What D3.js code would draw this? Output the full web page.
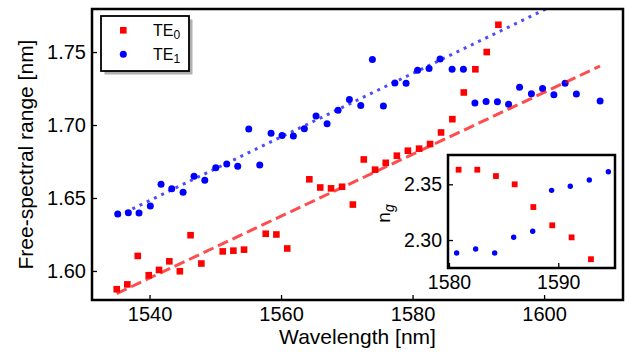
<!DOCTYPE html>
<html>
<head>
<meta charset="utf-8">
<script src="https://cdn.jsdelivr.net/npm/d3@7"></script>
<style>
  body { margin: 0; background: #fff; }
  svg { display: block; font-family: "Liberation Sans", Arial, sans-serif; }
  .tick line { stroke: #000; stroke-width: 1.3; }
  .tick text { fill: #000; }
</style>
</head>
<body>
<script>
// measured FSR, TE0 mode
const te0Wavelength = [1535.01, 1536.62, 1538.21, 1539.88, 1541.44, 1543.01, 1544.61, 1546.24, 1547.88,
  1551.13, 1552.75, 1554.37, 1557.67, 1559.29, 1560.94, 1564.30, 1565.96, 1567.60, 1569.28, 1570.92,
  1572.58, 1574.30, 1575.92, 1577.61, 1579.29, 1580.99, 1582.66, 1584.33, 1586.05, 1587.79, 1589.55,
  1591.28, 1593.05];
const te0Fsr = [1.5875, 1.5908, 1.6103, 1.5971, 1.6007, 1.6066, 1.5998, 1.6245, 1.6051,
  1.6134, 1.6139, 1.6146, 1.6255, 1.6250, 1.6154, 1.6628, 1.6572, 1.6566, 1.6577, 1.6455,
  1.6764, 1.6694, 1.6741, 1.6790, 1.6824, 1.6838, 1.6870, 1.6949, 1.7040, 1.7223, 1.7382,
  1.7500, 1.7687];

// measured FSR, TE1 mode
const te1Wavelength = [1535.16, 1536.78, 1538.40, 1540.12, 1541.75, 1543.38, 1545.10, 1546.77, 1548.40,
  1550.07, 1551.74, 1553.41, 1555.09, 1556.76, 1558.48, 1560.15, 1561.87, 1563.54, 1565.32, 1567.00,
  1568.67, 1570.39, 1572.12, 1573.89, 1575.56, 1577.31, 1579.01, 1580.76, 1582.51, 1584.18, 1586.01,
  1587.73, 1589.48, 1591.18, 1592.90, 1594.60, 1596.27, 1598.07, 1599.77, 1601.49, 1603.19, 1604.91,
  1608.52];
const te1Fsr = [1.6390, 1.6399, 1.6397, 1.6445, 1.6594, 1.6564, 1.6539, 1.6649, 1.6621,
  1.6708, 1.6733, 1.6717, 1.6973, 1.6726, 1.6943, 1.6928, 1.6925, 1.6975, 1.7062, 1.7009,
  1.7101, 1.7175, 1.7134, 1.7449, 1.7130, 1.7288, 1.7286, 1.7375, 1.7388, 1.7452, 1.7382,
  1.7382, 1.7151, 1.7162, 1.7160, 1.7142, 1.7259, 1.7214, 1.7251, 1.7208, 1.7286, 1.7212,
  1.7164];

// linear fits (end points)
const fit0Wavelength = [1535.0, 1608.5];
const fit0Fsr = [1.5845, 1.7404];
const fit1Wavelength = [1535.2, 1608.5];
const fit1Fsr = [1.6378, 1.7974];

// inset: group index
const ng0Wavelength = [1580.88, 1582.59, 1584.30, 1586.01, 1587.72, 1589.45, 1591.22, 1592.99];
const ng0 = [2.3631, 2.3631, 2.3574, 2.3500, 2.3296, 2.3132, 2.3024, 2.2828];
const ng1Wavelength = [1580.70, 1582.44, 1584.18, 1585.92, 1587.66, 1589.39, 1591.10, 1592.84, 1594.58];
const ng1 = [2.2883, 2.2919, 2.2883, 2.3025, 2.3079, 2.3446, 2.3482, 2.3539, 2.3613];

const xTicks = [1540, 1560, 1580, 1600];
const yTicks = [1.60, 1.65, 1.70, 1.75];
const insetXTicks = [1580, 1590];
const insetYTicks = [2.30, 2.35];
const seriesNames = ["0", "1"];

const W = 629, H = 354;
const red = "#ff0000", blue = "#0000ff";

const svg = d3.select("body").append("svg")
  .attr("width", W)
  .attr("height", H);

const x = d3.scaleLinear().domain([1531.25, 1612.0]).range([92, 623]);
const y = d3.scaleLinear().domain([1.5801, 1.7795]).range([300, 9]);

svg.append("clipPath").attr("id", "mainClip")
  .append("rect")
  .attr("x", x.range()[0]).attr("y", y.range()[1])
  .attr("width", x.range()[1] - x.range()[0])
  .attr("height", y.range()[0] - y.range()[1]);

const plot = svg.append("g").attr("clip-path", "url(#mainClip)");

const te0 = te0Wavelength.map((w, i) => ({w: w, v: te0Fsr[i]}));
const te1 = te1Wavelength.map((w, i) => ({w: w, v: te1Fsr[i]}));

plot.append("g")
  .selectAll("rect")
  .data(te0)
  .join("rect")
  .attr("x", d => x(d.w) - 3.3)
  .attr("y", d => y(d.v) - 3.3)
  .attr("width", 6.6)
  .attr("height", 6.6)
  .attr("fill", red);

plot.append("g")
  .selectAll("circle")
  .data(te1)
  .join("circle")
  .attr("cx", d => x(d.w))
  .attr("cy", d => y(d.v))
  .attr("r", 3.5)
  .attr("fill", blue);

const line = d3.line().x(d => x(d.w)).y(d => y(d.v));

plot.append("path")
  .datum(fit0Wavelength.map((w, i) => ({w: w, v: fit0Fsr[i]})))
  .attr("d", line)
  .attr("fill", "none")
  .attr("stroke", red)
  .attr("stroke-opacity", 0.7)
  .attr("stroke-width", 3)
  .attr("stroke-dasharray", "11,5");

plot.append("path")
  .datum(fit1Wavelength.map((w, i) => ({w: w, v: fit1Fsr[i]})))
  .attr("d", line)
  .attr("fill", "none")
  .attr("stroke", blue)
  .attr("stroke-opacity", 0.7)
  .attr("stroke-width", 3)
  .attr("stroke-dasharray", "3,5");

// axes
const xAxis = svg.append("g")
  .attr("transform", `translate(0,${y.range()[0]})`)
  .call(d3.axisBottom(x).tickValues(xTicks).tickSize(-5).tickPadding(7).tickFormat(d3.format("d")));
const yAxis = svg.append("g")
  .attr("transform", `translate(${x.range()[0]},0)`)
  .call(d3.axisLeft(y).tickValues(yTicks).tickSize(-5).tickPadding(6).tickFormat(d3.format(".2f")));
[xAxis, yAxis].forEach(a => {
  a.select(".domain").remove();
  a.attr("font-family", null).attr("font-size", 20);
});

svg.append("rect")
  .attr("x", x.range()[0]).attr("y", y.range()[1])
  .attr("width", x.range()[1] - x.range()[0])
  .attr("height", y.range()[0] - y.range()[1])
  .attr("fill", "none")
  .attr("stroke", "#000")
  .attr("stroke-width", 2.5);

svg.append("text")
  .attr("x", (x.range()[0] + x.range()[1]) / 2)
  .attr("y", 344)
  .attr("text-anchor", "middle")
  .attr("font-size", 21)
  .text("Wavelength [nm]");

svg.append("text")
  .attr("transform", `translate(33,${(y.range()[0] + y.range()[1]) / 2}) rotate(-90)`)
  .attr("text-anchor", "middle")
  .attr("font-size", 21)
  .text("Free-spectral range [nm]");

// legend
const legend = svg.append("g");
legend.append("rect")
  .attr("x", 104.5).attr("y", 19.5).attr("width", 88).attr("height", 55)
  .attr("fill", "#b0b0b0");
legend.append("rect")
  .attr("x", 101).attr("y", 16).attr("width", 88).attr("height", 55)
  .attr("fill", "#fff").attr("stroke", "#000").attr("stroke-width", 1.8);
legend.append("rect")
  .attr("x", 123.3 - 3.3).attr("y", 30.3 - 3.3).attr("width", 6.6).attr("height", 6.6)
  .attr("fill", red);
legend.append("circle")
  .attr("cx", 123.3).attr("cy", 54.3).attr("r", 3.5)
  .attr("fill", blue);
seriesNames.forEach((s, i) => {
  const t = legend.append("text")
    .attr("x", 153)
    .attr("y", 35.5 + i * 24.5)
    .attr("font-size", 16)
    .text("TE");
  t.append("tspan")
    .attr("dy", 3)
    .attr("font-size", 12)
    .text(s);
});

// inset
const xi = d3.scaleLinear().domain([1579.91, 1595.19]).range([448, 615]);
const yi = d3.scaleLinear().domain([2.2749, 2.3763]).range([268, 155]);

const inset = svg.append("g");
inset.append("rect")
  .attr("x", xi.range()[0]).attr("y", yi.range()[1])
  .attr("width", xi.range()[1] - xi.range()[0])
  .attr("height", yi.range()[0] - yi.range()[1])
  .attr("fill", "#fff");

inset.append("g")
  .selectAll("rect")
  .data(ng0Wavelength.map((w, i) => ({w: w, v: ng0[i]})))
  .join("rect")
  .attr("x", d => xi(d.w) - 2.9)
  .attr("y", d => yi(d.v) - 2.9)
  .attr("width", 5.8)
  .attr("height", 5.8)
  .attr("fill", red);

inset.append("g")
  .selectAll("circle")
  .data(ng1Wavelength.map((w, i) => ({w: w, v: ng1[i]})))
  .join("circle")
  .attr("cx", d => xi(d.w))
  .attr("cy", d => yi(d.v))
  .attr("r", 2.7)
  .attr("fill", blue);

const xiAxis = inset.append("g")
  .attr("transform", `translate(0,${yi.range()[0]})`)
  .call(d3.axisBottom(xi).tickValues(insetXTicks).tickSize(-5).tickPadding(7).tickFormat(d3.format("d")));
const yiAxis = inset.append("g")
  .attr("transform", `translate(${xi.range()[0]},0)`)
  .call(d3.axisLeft(yi).tickValues(insetYTicks).tickSize(-5).tickPadding(6).tickFormat(d3.format(".2f")));
[xiAxis, yiAxis].forEach(a => {
  a.select(".domain").remove();
  a.attr("font-family", null).attr("font-size", 19.5);
});

inset.append("rect")
  .attr("x", xi.range()[0]).attr("y", yi.range()[1])
  .attr("width", xi.range()[1] - xi.range()[0])
  .attr("height", yi.range()[0] - yi.range()[1])
  .attr("fill", "none")
  .attr("stroke", "#000")
  .attr("stroke-width", 2.5);

const ngLabel = inset.append("text")
  .attr("transform", `translate(390,${(yi.range()[0] + yi.range()[1]) / 2 + 2}) rotate(-90)`)
  .attr("text-anchor", "middle")
  .attr("font-size", 19)
  .text("n");
ngLabel.append("tspan")
  .attr("dy", 4)
  .attr("font-size", 14)
  .attr("font-style", "italic")
  .text("g");
</script>
</body>
</html>
